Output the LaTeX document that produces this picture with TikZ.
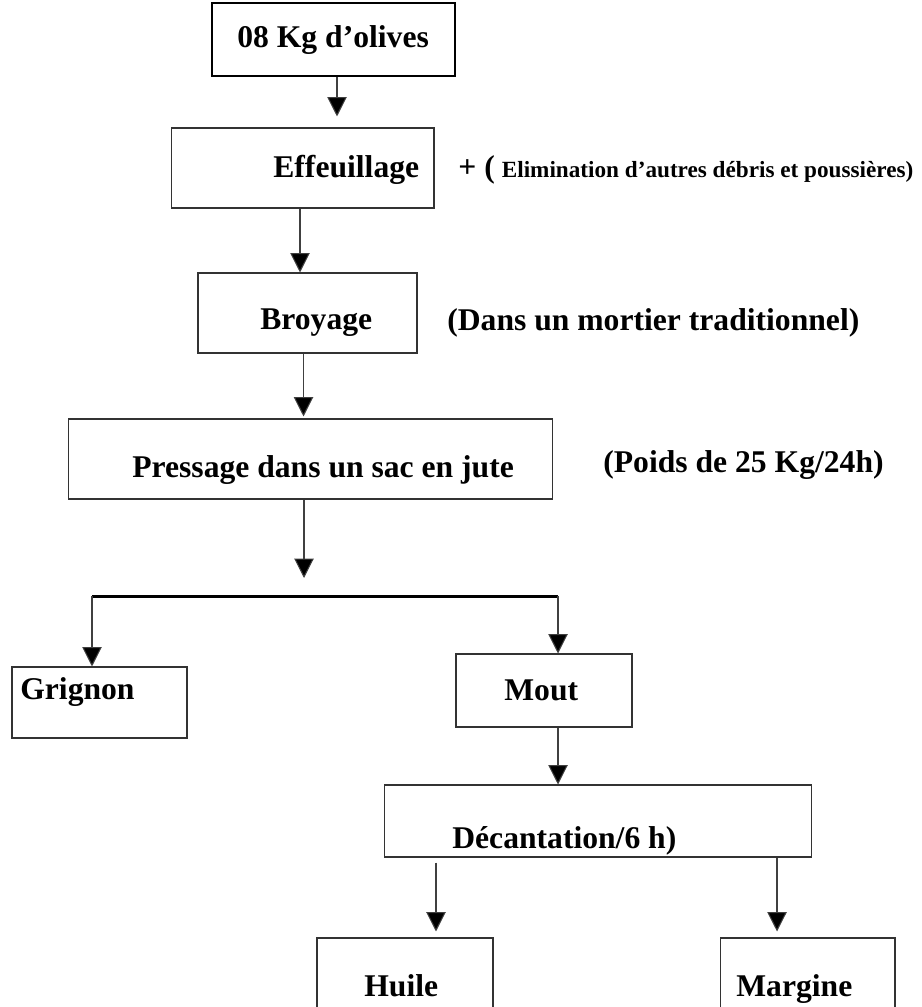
\documentclass[tikz,border=0pt]{standalone}
\usepackage{fontspec}
\setmainfont{Liberation Serif}
\usetikzlibrary{arrows.meta}

\tikzset{
  box/.style={draw=black!80, line width=0.6pt, inner sep=0pt},
  label/.style={anchor=base west, inner sep=0pt, font=\fontsize{18}{21}\selectfont\bfseries},
  arr/.style={draw=black!75, line width=0.6pt, -{Triangle[width=11pt,length=11pt,fill=black]}},
  bar/.style={line width=1.7pt}
}

\begin{document}
\begin{tikzpicture}[x=0.02cm, y=-0.02cm]
    \path[use as bounding box, clip] (0,0) rectangle (921,1007);
    %% Draw the boxes
    \node[box, line width=1.1pt, draw=black, minimum width=4.86cm, minimum height=1.46cm] (olives) at (333.5,39.5) {};
    \node[box, minimum width=5.26cm, minimum height=1.6cm] (effeuil) at (302.5,168) {};
    \node[box, minimum width=4.38cm, minimum height=1.6cm] (broyage) at (307.5,313) {};
    \node[box, minimum width=9.7cm, minimum height=1.6cm] (pressage) at (310.5,459) {};
    \node[box, minimum width=3.5cm, minimum height=1.42cm] (grignon) at (99.5,702.5) {};
    \node[box, minimum width=3.52cm, minimum height=1.46cm] (mout) at (544,690.5) {};
    \node[box, minimum width=8.56cm, minimum height=1.44cm] (decant) at (598,821) {};
    \node[box, minimum width=3.52cm, minimum height=2.04cm] (huile) at (405,989) {};
    \node[box, minimum width=3.5cm, minimum height=2.04cm] (margine) at (807.5,989) {};
    %% Draw the texts
    \node[label] (olivesT) at (237,48) {08 Kg d’olives};
    \node[label] (effeuilT) at (273,177) {Effeuillage};
    \node[label] (effeuilN) at (458,177) {+ (\hspace{4pt}{\fontsize{13.2}{15}\selectfont Elimination d’autres débris et poussières)}};
    \node[label] (broyageT) at (260,329) {Broyage};
    \node[label] (broyageN) at (447,330) {(Dans un mortier traditionnel)};
    \node[label] (pressageT) at (132,477) {Pressage dans un sac en jute};
    \node[label] (pressageN) at (603,472) {(Poids de 25 Kg/24h)};
    \node[label] (grignonT) at (20,699) {Grignon};
    \node[label] (moutT) at (504,700) {Mout};
    \node[label] (decantT) at (452,848) {Décantation/6 h)};
    \node[label] (huileT) at (364,996) {Huile};
    \node[label] (margineT) at (736,996) {Margine};
    %% Draw the fork
    \coordinate (P) at (310.5,578);
    \coordinate (L) at (92,596);
    \coordinate (R) at (558,596);
    \draw[bar] (L) -- (R);
    %% Draw the edges
    \draw[arr, shorten >=0.22cm] ([xshift=0.07cm]olives.south) -- ([xshift=0.07cm]olives.south |- effeuil.north);
    \draw[arr] ([xshift=-0.05cm]effeuil.south) -- ([xshift=-0.05cm]effeuil.south |- broyage.north);
    \draw[arr, shorten >=0.04cm] ([xshift=-0.08cm]broyage.south) -- ([xshift=-0.08cm]broyage.south |- pressage.north);
    \draw[arr] ([xshift=-0.13cm]pressage.south) -- ([xshift=-0.13cm]P);
    \draw[arr] (L) -- (L |- grignon.north);
    \draw[arr] (R) -- (R |- mout.north);
    \draw[arr] (R |- mout.south) -- (R |- decant.north);
    \draw[arr, shorten <=0.1cm, shorten >=0.12cm] ([xshift=0.62cm]huile.north |- decant.south) -- ([xshift=0.62cm]huile.north);
    \draw[arr, shorten >=0.12cm] ([xshift=-0.61cm]margine.north |- decant.south) -- ([xshift=-0.61cm]margine.north);
\end{tikzpicture}
\end{document}
